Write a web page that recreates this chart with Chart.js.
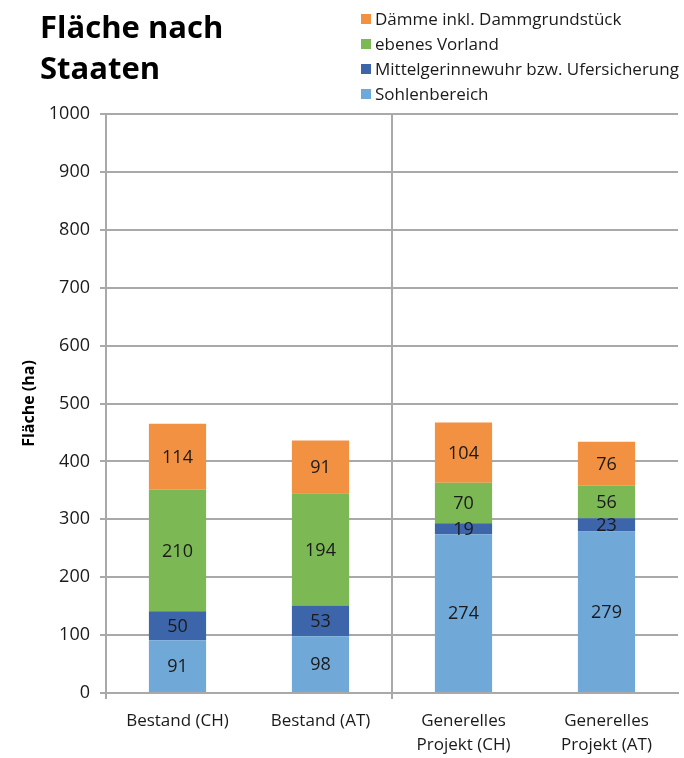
<!DOCTYPE html>
<html>
<head>
<meta charset="utf-8">
<script src="https://cdn.jsdelivr.net/npm/chart.js@4/dist/chart.umd.min.js"></script>
<style>
  html, body { margin: 0; padding: 0; background: #fff; }
  #wrap { width: 684px; height: 758px; position: relative; }
</style>
</head>
<body>
<div id="wrap"><canvas id="flaecheChart" width="684" height="758"></canvas></div>
<script>
var categories = [['Bestand (CH)'], ['Bestand (AT)'], ['Generelles', 'Projekt (CH)'], ['Generelles', 'Projekt (AT)']];
var sohlenbereich = [91, 98, 274, 279];
var mittelgerinne = [50, 53, 19, 23];
var vorland = [210, 194, 70, 56];
var daemme = [114, 91, 104, 76];
var yTicks = [0, 100, 200, 300, 400, 500, 600, 700, 800, 900, 1000];

var fontFamily = "'Open Sans', sans-serif";
var gridGray = '#A9A9A9';

// title, legend and value labels drawn on the canvas
var extras = {
    id: 'extras',
    afterDatasetsDraw: function(chart){
        var ctx = chart.ctx;
        ctx.save();
        ctx.font = '18px ' + fontFamily;
        ctx.fillStyle = '#1a1a1a';
        ctx.textAlign = 'center';
        ctx.textBaseline = 'middle';
        chart.data.datasets.forEach(function(ds, i){
            var meta = chart.getDatasetMeta(i);
            meta.data.forEach(function(el, j){
                ctx.fillText(ds.data[j], el.x, (el.y + el.base) / 2 + 1);
            });
        });
        ctx.restore();
    },
    afterDraw: function(chart){
        var ctx = chart.ctx;
        ctx.save();
        ctx.fillStyle = '#000';
        ctx.textAlign = 'left';
        ctx.textBaseline = 'alphabetic';
        ctx.font = 'bold 31px ' + fontFamily;
        ctx.fillText('Fläche nach', 40, 38);
        ctx.fillText('Staaten', 40, 79);

        // legend, top series first
        ctx.font = '17px ' + fontFamily;
        ctx.textBaseline = 'middle';
        var ds = chart.data.datasets.slice().reverse();
        ds.forEach(function(d, i){
            var y = 19 + i * 25;
            ctx.fillStyle = d.backgroundColor;
            ctx.fillRect(361, y - 5, 10, 10);
            ctx.fillStyle = '#1a1a1a';
            ctx.fillText(d.label, 375, y + 1);
        });
        ctx.restore();
    }
};

function everyOther(ctx){
    return ctx.index % 2 === 0 ? gridGray : 'rgba(0,0,0,0)';
}

var ctx = document.getElementById('flaecheChart').getContext('2d');
var data = {
    labels: categories,
    datasets: [
        { label: 'Sohlenbereich', data: sohlenbereich, backgroundColor: '#70A8D8' },
        { label: 'Mittelgerinnewuhr bzw. Ufersicherung', data: mittelgerinne, backgroundColor: '#3D66AA' },
        { label: 'ebenes Vorland', data: vorland, backgroundColor: '#7CB955' },
        { label: 'Dämme inkl. Dammgrundstück', data: daemme, backgroundColor: '#F39142' }
    ]
};

var flaecheChart = new Chart(ctx, {
    type: 'bar',
    data: data,
    options: {
        responsive: false,
        animation: false,
        devicePixelRatio: 1,
        datasets: {
            bar: { categoryPercentage: 1, barPercentage: 0.4, borderWidth: 0 }
        },
        layout: { padding: { top: 114, right: 6, left: 0, bottom: 0 } },
        plugins: {
            legend: { display: false },
            title: { display: false },
            tooltip: { enabled: false }
        },
        scales: {
            x: {
                stacked: true,
                grid: { color: everyOther, tickColor: everyOther, lineWidth: 2, tickLength: 6, offset: true },
                border: { color: gridGray, width: 2 },
                ticks: { color: '#1a1a1a', font: { family: fontFamily, size: 17, lineHeight: 1.4 }, padding: 10, maxRotation: 0 },
                afterFit: function(scale){ scale.height = 65; }
            },
            y: {
                stacked: true,
                min: 0,
                max: 1000,
                afterBuildTicks: function(scale){
                    scale.ticks = yTicks.map(function(v){ return { value: v }; });
                },
                grid: { color: gridGray, lineWidth: 2, tickLength: 6 },
                border: { color: gridGray, width: 2 },
                ticks: {
                    color: '#1a1a1a',
                    font: { family: fontFamily, size: 18 },
                    padding: 10,
                    callback: function(v){ return String(v); }
                },
                title: {
                    display: true,
                    text: 'Fläche (ha)',
                    color: '#000',
                    font: { family: fontFamily, size: 16, weight: 'bold' },
                    padding: { top: 20, bottom: 4 }
                },
                afterFit: function(scale){ scale.width = 106; }
            }
        }
    },
    plugins: [extras]
});
</script>
</body>
</html>
